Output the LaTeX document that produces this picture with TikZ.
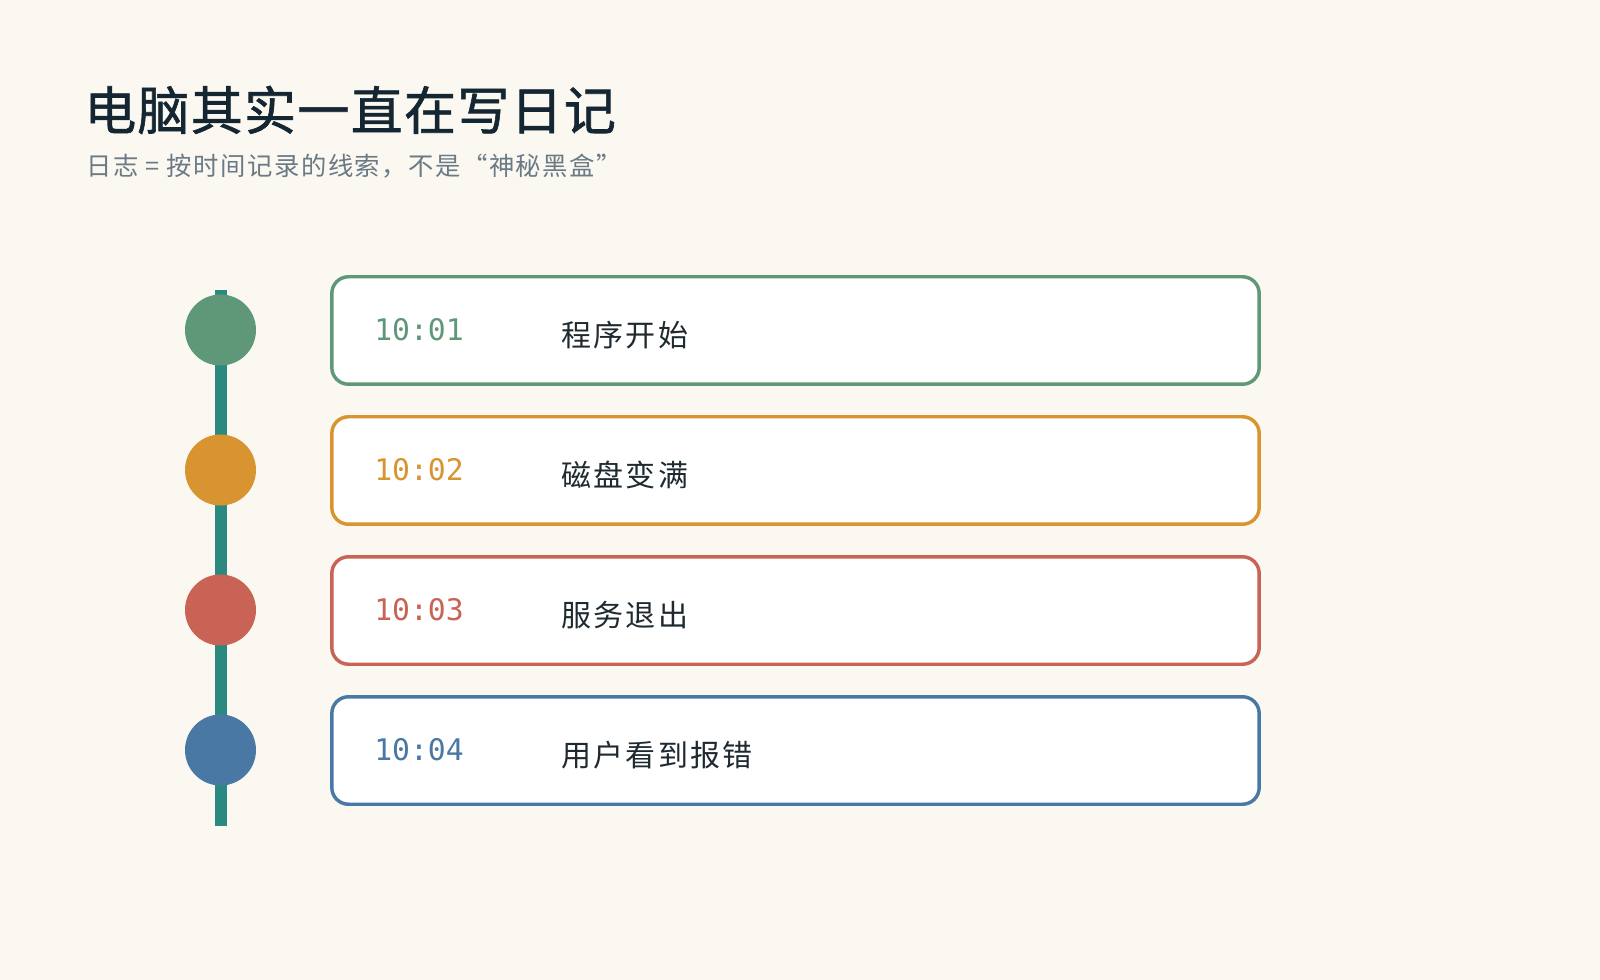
\documentclass[tikz,border=0pt]{standalone}
\usepackage{fontspec}
\newfontfamily\cjktitle{Noto Sans CJK SC}[FakeBold=1.2, LetterSpace=2.5]
\newfontfamily\cjksub{Noto Sans CJK SC}[LetterSpace=6]
\newfontfamily\cjkev{Noto Sans CJK SC}[LetterSpace=7.5]
\newfontfamily\monofont{DejaVu Sans Mono}
\definecolor{bgc}{HTML}{FAF8F0}
\definecolor{titlec}{HTML}{152633}
\definecolor{subc}{HTML}{6B7A85}
\definecolor{textc}{HTML}{1F2A30}
\definecolor{linec}{HTML}{2A8A80}
\definecolor{cgreen}{HTML}{5F9878}
\definecolor{corange}{HTML}{D89430}
\definecolor{cred}{HTML}{C96355}
\definecolor{cblue}{HTML}{4A78A5}
\tikzset{
  evbox/.style={draw=#1, line width=2.6pt, fill=white, rounded corners=12.5pt,
    minimum width=695.5pt, minimum height=80.6pt, inner sep=0pt},
  dot/.style={circle, fill=#1, draw=none, minimum size=53.25pt, inner sep=0pt},
  timetext/.style={anchor=west, inner sep=0pt, text=#1, font=\monofont\fontsize{22.3pt}{24pt}\selectfont},
  evtext/.style={anchor=west, inner sep=0pt, text=textc, font=\cjkev\fontsize{22.5pt}{26pt}\selectfont},
}
\begin{document}
\begin{tikzpicture}[x=0.75pt,y=-0.75pt]
\fill[bgc] (0,0) rectangle (1600,980);
\useasboundingbox (0,0) rectangle (1600,980);
% title
\node[anchor=west, inner sep=0pt, text=titlec, font=\cjktitle\fontsize{39pt}{44pt}\selectfont] (title) at (84,110) {电脑其实一直在写日记};
\node[anchor=west, inner sep=0pt, text=subc, font=\cjksub\fontsize{19pt}{23pt}\selectfont] (subtitle) at (86,166) {日志 = 按时间记录的线索，不是“神秘黑盒”};
% timeline
\coordinate (ltop) at (221,290);
\coordinate (lbot) at (221,826);
\draw[linec, line width=8.6pt] (ltop) -- (lbot);
% events
\foreach \i/\y/\c/\t/\e in {1/330/cgreen/10:01/程序开始, 2/470/corange/10:02/磁盘变满, 3/610/cred/10:03/服务退出, 4/750/cblue/10:04/用户看到报错}{
  \node[dot=\c] (d\i) at (220.5,\y) {};
  \node[evbox=\c] (b\i) at (795.5,\y+0.5) {};
  \node[timetext=\c] (t\i) at (374,\y) {\t};
  \node[evtext] (e\i) at (561,\y+5) {\e};
}
\end{tikzpicture}
\end{document}
